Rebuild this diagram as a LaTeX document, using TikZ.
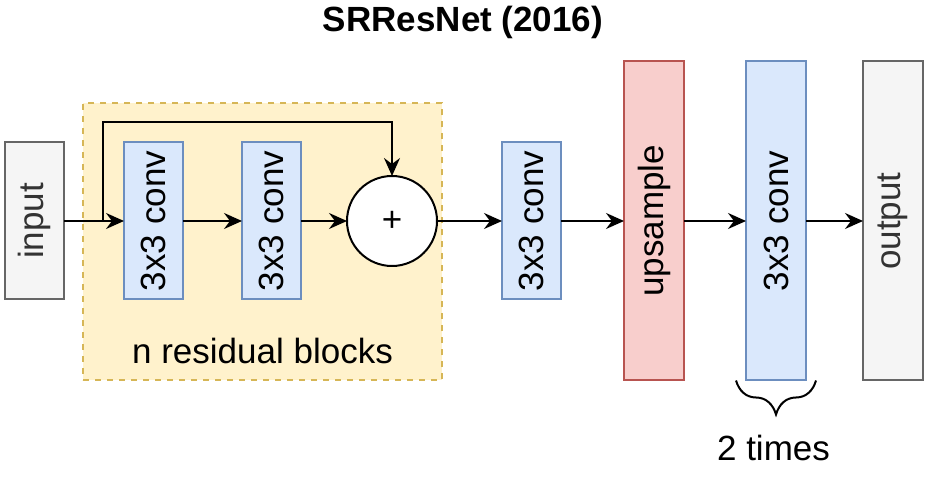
\documentclass[tikz,border=0pt]{standalone}
\usepackage{fontspec}
\setmainfont{Liberation Sans}
\usepackage{graphicx}
\usepackage{xcolor}
\usetikzlibrary{positioning,arrows.meta,calc,fit,backgrounds,decorations.pathreplacing}

\definecolor{convfill}{HTML}{DAE8FC}
\definecolor{convline}{HTML}{6C8EBF}
\definecolor{upfill}{HTML}{F8CECC}
\definecolor{upline}{HTML}{B85450}
\definecolor{iofill}{HTML}{F5F5F5}
\definecolor{ioline}{HTML}{666666}
\definecolor{iotext}{HTML}{333333}
\definecolor{resfill}{HTML}{FFF2CC}
\definecolor{resline}{HTML}{D6B656}

\begin{document}
\begin{tikzpicture}[
  font=\fontsize{17.5}{21}\selectfont,
  blk/.style={draw, line width=1pt, minimum width=29.5pt, minimum height=78.5pt, inner sep=0pt, outer sep=0pt},
  tallblk/.style={blk, minimum width=30pt, minimum height=159.5pt},
  conv/.style={fill=convfill, draw=convline},
  io/.style={fill=iofill, draw=ioline, text=iotext},
  arr/.style={-{Stealth[length=9pt,width=8pt,inset=3pt]}, line width=1pt}
]
  \useasboundingbox (-17.25pt,-135.5pt) rectangle (445.75pt,110.5pt);
  \node[blk, io] (input) at (0,0) {\rotatebox{90}{input}};
  \node[blk, conv, right=30pt of input] (conv1) {\rotatebox{90}{3x3 conv}};
  \node[blk, conv, right=29.5pt of conv1] (conv2) {\rotatebox{90}{3x3 conv}};
  \node[draw, circle, line width=1pt, fill=white, minimum size=45pt, inner sep=0pt, outer sep=0pt, right=23pt of conv2] (plus) {+};
  \node[blk, conv, right=32.5pt of plus] (conv3) {\rotatebox{90}{3x3 conv}};
  \node[tallblk, fill=upfill, draw=upline, right=31.5pt of conv3] (up) {\rotatebox{90}{upsample}};
  \node[tallblk, conv, right=31pt of up] (conv4) {\rotatebox{90}{3x3 conv}};
  \node[tallblk, io, right=28.5pt of conv4] (output) {\rotatebox{90}{output}};
  \node[font=\fontsize{17.5}{21}\selectfont\bfseries] (title) at ([shift={(214.25pt,99.5pt)}]input.center) {SRResNet (2016)};
  % residual block frame
  \begin{scope}[on background layer]
    \node[draw=resline, fill=resfill, line width=1pt, dash pattern=on 3pt off 3pt, inner sep=0pt,
      fit={($(conv1.west)+(-20.5pt,0)$) ($(plus.east)+(2.5pt,0)$) ($(conv1.north)+(0,19.5pt)$) ($(conv1.south)+(0,-40.5pt)$)}] (res) {};
  \end{scope}
  \node[anchor=base] (reslabel) at ([yshift=9pt]res.south) {n residual blocks};
  \coordinate[left=10.5pt of conv1.west] (split);
  \draw[arr] (input) -- (conv1);
  \draw[arr] (conv1) -- (conv2);
  \draw[arr] (conv2) -- (plus);
  \draw[arr] (split) |- ([yshift=10pt]conv1.north) -| (plus.north);
  \draw[arr] (plus) -- (conv3);
  \draw[arr] (conv3) -- (up);
  \draw[arr] (up) -- (conv4);
  \draw[arr] (conv4) -- (output);
  % repeat brace
  \draw[line width=1pt, decorate, decoration={brace, mirror, amplitude=17pt}]
    ([xshift=-5pt]conv4.south west) -- ([xshift=5pt]conv4.south east);
  \node[anchor=base] (times) at ([shift={(-1.25pt,-40pt)}]conv4.south) {2 times};
\end{tikzpicture}
\end{document}
